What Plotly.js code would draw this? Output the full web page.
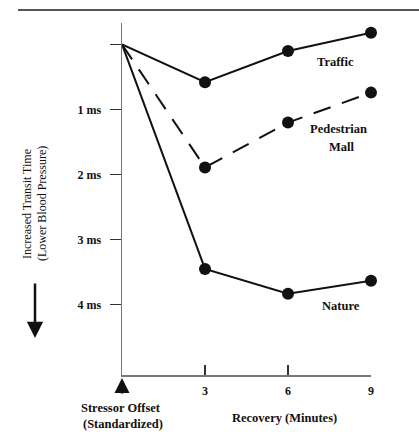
<!DOCTYPE html>
<html><head><meta charset="utf-8">
<script src="https://cdn.plot.ly/plotly-3.0.1.min.js"></script>
<style>html,body{margin:0;padding:0;background:#fff}#chart{width:419px;height:432px}</style>
</head><body><div id="chart"></div>
<script>
// Data
const minutes = [0, 3, 6, 9];
const traffic = [0, 0.58, 0.10, -0.18];
const pedestrianMall = [0, 1.89, 1.20, 0.74];
const nature = [0, 3.45, 3.83, 3.63];
const seriesNames = ["Traffic", "Pedestrian", "Mall", "Nature"];
const yTickVals = [0, 1, 2, 3, 4];
const yTickText = ["", "1 ms", "2 ms", "3 ms", "4 ms"];
const xTickVals = [3, 6, 9];
const xTickText = ["3", "6", "9"];

const W = 419, H = 432;
const M = {l: 122, r: 48, t: 23, b: 57};
const pw = W - M.l - M.r, ph = H - M.t - M.b;
const px = x => (x - M.l) / pw;
const py = y => (H - M.b - y) / ph;

const FONT = "Liberation Serif, Times New Roman, serif";
const ink = "#111";

function trace(y, dash) {
  return {
    x: minutes, y: y, type: "scatter", mode: "lines+markers",
    line: {color: ink, width: 2, dash: dash},
    marker: {color: ink, opacity: 1, size: minutes.map(m => m === 0 ? 0 : 12), line: {width: 0}},
    cliponaxis: false, showlegend: false, hoverinfo: "skip"
  };
}

const data = [
  trace(traffic, "solid"),
  trace(pedestrianMall, "18px,12px"),
  trace(nature, "solid")
];

function lab(x, y, text, size, extra) {
  return Object.assign({x: px(x), y: py(y), xref: "paper", yref: "paper", text: text, showarrow: false,
    xanchor: "center", yanchor: "middle", font: {family: FONT, size: size, color: ink}}, extra || {});
}

const annotations = [
  lab(335, 62, "<b>" + seriesNames[0] + "</b>", 12.5),
  lab(338, 129, "<b>" + seriesNames[1] + "</b>", 12.5),
  lab(342, 147, "<b>" + seriesNames[2] + "</b>", 12.5),
  lab(341, 306, "<b>" + seriesNames[3] + "</b>", 12.5),
  // y title
  lab(27, 204, "Increased Transit Time", 12, {textangle: -90}),
  lab(42, 204, "(Lower Blood Pressure)", 12, {textangle: -90}),
  // down arrow
  {x: px(35), y: py(338), xref: "paper", yref: "paper", ax: 0, ay: -56, text: "", showarrow: true,
   arrowhead: 2, arrowsize: 1.3, arrowwidth: 2.5, arrowcolor: ink},
  // up arrow at origin
  {x: px(122), y: py(378), xref: "paper", yref: "paper", ax: 0, ay: 17, text: "", showarrow: true,
   arrowhead: 2, arrowsize: 1.2, arrowwidth: 2.5, arrowcolor: ink},
  lab(121, 408, "<b>Stressor Offset</b>", 12.5),
  lab(123, 424, "<b>(Standardized)</b>", 12.5),
  lab(284, 418, "<b>Recovery (Minutes)</b>", 12.5)
];

const shapes = [
  {type: "line", xref: "paper", yref: "paper", x0: px(18), x1: px(419), y0: py(10), y1: py(10),
   line: {color: "#555", width: 2}}
];

const layout = {
  width: W, height: H,
  margin: M,
  paper_bgcolor: "#fff", plot_bgcolor: "#fff",
  font: {family: FONT, color: ink},
  xaxis: {
    range: [0, 9], showgrid: false, zeroline: false,
    showline: true, linecolor: "#777", linewidth: 1.5,
    tickvals: xTickVals, ticktext: xTickText, ticks: "inside", ticklen: 10, tickwidth: 1.2, tickcolor: "#333",
    tickfont: {family: FONT, size: 12, color: ink, weight: "bold"}, ticklabelstandoff: 4
  },
  yaxis: {
    range: [5.08, -0.33], showgrid: false, zeroline: false,
    showline: true, linecolor: "#777", linewidth: 1.5,
    tickvals: yTickVals, ticktext: yTickText, ticks: "outside", ticklen: 11, tickwidth: 1.2, tickcolor: "#333",
    tickfont: {family: FONT, size: 12, color: ink, weight: "bold"}, ticklabelstandoff: 6
  },
  annotations: annotations,
  shapes: shapes
};

Plotly.newPlot("chart", data, layout, {staticPlot: true, displayModeBar: false});
</script></body></html>
